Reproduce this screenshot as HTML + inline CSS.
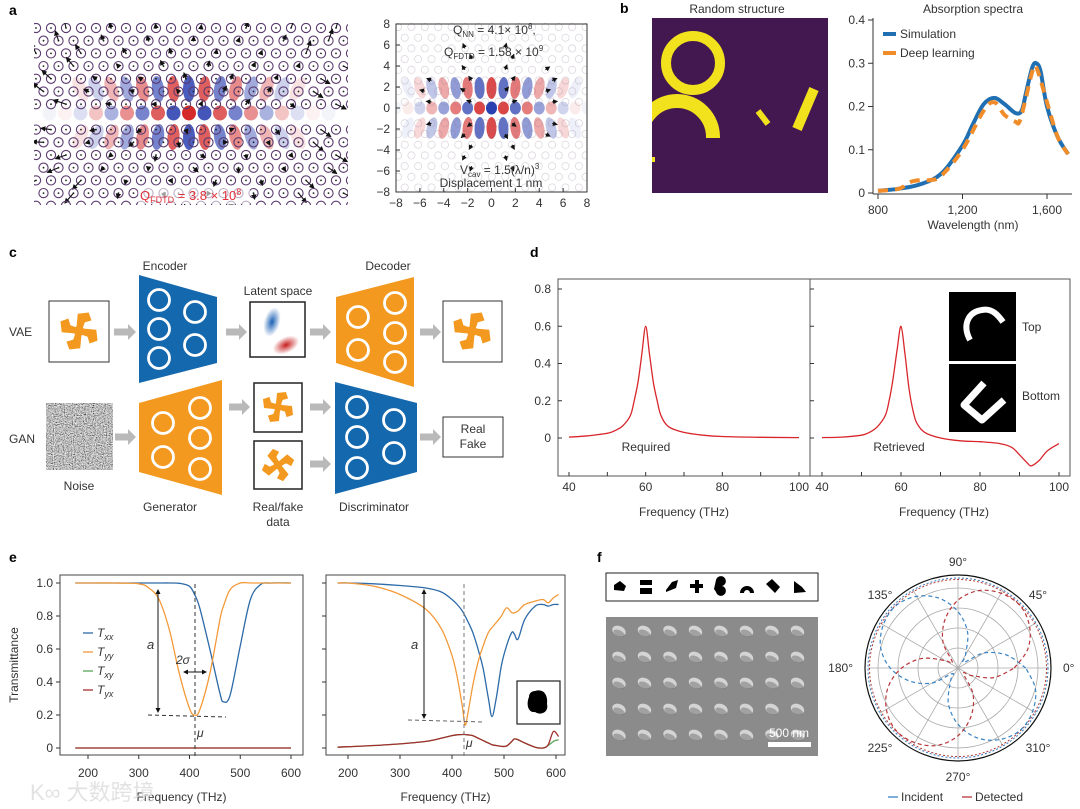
<!DOCTYPE html>
<html><head><meta charset="utf-8"><style>
html,body{margin:0;padding:0;background:#fff}
svg{display:block;font-family:"Liberation Sans",Arial,sans-serif}
text{fill:#333}
</style></head><body>
<svg id="fig" width="1080" height="809" viewBox="0 0 1080 809" xmlns="http://www.w3.org/2000/svg">
<defs>
<filter id="noiseF" x="0" y="0" width="100%" height="100%"><feTurbulence type="fractalNoise" baseFrequency="0.9" numOctaves="2" seed="3"/><feColorMatrix type="saturate" values="0"/><feComponentTransfer><feFuncR type="linear" slope="2.2" intercept="-0.6"/><feFuncG type="linear" slope="2.2" intercept="-0.6"/><feFuncB type="linear" slope="2.2" intercept="-0.6"/><feFuncA type="linear" slope="0" intercept="1"/></feComponentTransfer></filter>
<marker id="ah" viewBox="0 0 10 10" refX="8" refY="5" markerWidth="5" markerHeight="5" orient="auto-start-reverse"><path d="M0,0L10,5L0,10z" fill="#111"/></marker>
<clipPath id="clipA"><rect x="34" y="23" width="314" height="182"/></clipPath>
<clipPath id="clipA2"><rect x="396" y="23" width="191" height="169"/></clipPath>
<clipPath id="clipB"><rect x="652" y="18" width="176" height="175"/></clipPath>
<radialGradient id="latB" cx="50%" cy="50%" r="50%"><stop offset="0" stop-color="#1a5fb4"/><stop offset="1" stop-color="#1a5fb4" stop-opacity="0"/></radialGradient>
<radialGradient id="latR" cx="50%" cy="50%" r="50%"><stop offset="0" stop-color="#c81d1d"/><stop offset="1" stop-color="#c81d1d" stop-opacity="0"/></radialGradient>
</defs>

<text x="9" y="15" font-weight="bold" font-size="14" style="fill:#000">a</text>
<text x="620" y="13" font-weight="bold" font-size="14" style="fill:#000">b</text>
<text x="9" y="257" font-weight="bold" font-size="14" style="fill:#000">c</text>
<text x="530" y="257" font-weight="bold" font-size="14" style="fill:#000">d</text>
<text x="9" y="562" font-weight="bold" font-size="14" style="fill:#000">e</text>
<text x="597" y="562" font-weight="bold" font-size="14" style="fill:#000">f</text>

<g id="aLeft" clip-path="url(#clipA)"></g>
<rect x="138" y="187" width="112" height="17" fill="#fff" fill-opacity="0.6"/>
<text x="140" y="200" font-size="13" style="fill:#e0303a">Q<tspan font-size="9" dy="3">FDTD</tspan><tspan dy="-3"> = 3.8 × 10</tspan><tspan font-size="9" dy="-5">8</tspan></text>
<g id="aRight"></g>

<text x="737" y="13" font-size="12" text-anchor="middle">Random structure</text>
<g clip-path="url(#clipB)">
<rect x="652" y="18" width="176" height="175" fill="#43174f"/>
<circle cx="693" cy="63" r="27" fill="none" stroke="#f2e11d" stroke-width="10"/>
<circle cx="677" cy="137" r="36" fill="none" stroke="#f2e11d" stroke-width="14"/>
<rect x="640" y="138" width="100" height="60" fill="#43174f"/>
<line x1="758" y1="111" x2="768" y2="124" stroke="#f2e11d" stroke-width="6"/>
<line x1="814" y1="89" x2="797" y2="129" stroke="#f2e11d" stroke-width="10"/>
<rect x="652" y="157" width="3" height="5" fill="#f2e11d"/>
</g>
<text x="973" y="13" font-size="12" text-anchor="middle">Absorption spectra</text>
<g id="bPlot"></g>

<g id="cDiagram"></g>
<g id="dPlot"></g>
<g id="ePlot"></g>
<g id="fPanel"></g>

<text x="30" y="800" font-size="22" style="fill:#dcdcdc;opacity:0.8" font-family="'Liberation Sans','Noto Sans CJK SC',sans-serif">K∞ 大数跨境</text>
</svg>

<script>
const bWavelength = [800,900,1000,1100,1200,1250,1300,1350,1400,1450,1480,1500,1530,1550,1570,1600,1650,1700];
const bSimulation = [0.005,0.01,0.02,0.045,0.11,0.16,0.205,0.22,0.205,0.185,0.19,0.23,0.29,0.3,0.28,0.2,0.13,0.09];
const bDLWavelength = [800,900,950,1000,1050,1100,1200,1300,1350,1400,1450,1470,1500,1530,1550,1600,1650,1700];
const bDeepLearning = [0.005,0.01,0.025,0.03,0.03,0.04,0.1,0.19,0.21,0.18,0.165,0.165,0.22,0.28,0.29,0.21,0.13,0.09];
const bYTicks = [0,0.1,0.2,0.3,0.4];
const bXTicks = [800,1200,1600];
const bXTickLabels = ["800","1,200","1,600"];
const dFreq = [40,45,50,52,54,56,57,58,59,60,61,62,63,64,66,70,75,80,90,100];
const dRequired = [0.005,0.012,0.025,0.04,0.065,0.12,0.2,0.3,0.45,0.6,0.45,0.3,0.2,0.12,0.06,0.03,0.015,0.008,0.004,0.002];
const dFreq2 = [40,45,50,52,54,56,57,58,59,60,61,62,63,64,66,70,75,80,85,88,90,92,93,95,97,100];
const dRetrieved = [0.002,0.005,0.015,0.03,0.06,0.12,0.2,0.32,0.47,0.6,0.45,0.27,0.15,0.08,0.03,0.0,-0.015,-0.02,-0.03,-0.05,-0.09,-0.135,-0.15,-0.12,-0.07,-0.03];
const dYTicks = [0,0.2,0.4,0.6,0.8];
const dXTicks = [40,60,80,100];
const eFreqL = [175,200,250,300,320,340,360,380,400,410,420,440,460,467,480,500,520,540,560,600];
const eTxxL = [1,1,1,1,1,1,1,0.998,0.98,0.93,0.85,0.6,0.33,0.28,0.32,0.62,0.9,0.99,1,1];
const eTyyL = [1,1,1,0.995,0.97,0.9,0.72,0.45,0.24,0.2,0.23,0.45,0.78,0.86,0.96,1,1,1,1,1];
const eTxyL = [0,0,0,0,0,0,0,0,0,0,0,0,0,0,0,0,0,0,0,0];
const eTyxL = [0,0,0,0,0,0,0,0,0,0,0,0,0,0,0,0,0,0,0,0];
const eFreqR = [180,200,250,300,350,380,400,410,420,425,430,440,450,460,470,477,485,495,505,515,520,527,540,560,575,585,595,605];
const eTxxR = [1,1,0.995,0.985,0.97,0.945,0.9,0.87,0.83,0.8,0.77,0.7,0.6,0.48,0.3,0.19,0.3,0.5,0.62,0.7,0.69,0.66,0.78,0.86,0.87,0.86,0.87,0.87];
const eTyyR = [1,1,0.98,0.93,0.84,0.72,0.56,0.43,0.25,0.14,0.2,0.38,0.52,0.62,0.7,0.73,0.76,0.8,0.85,0.82,0.82,0.83,0.87,0.89,0.9,0.88,0.91,0.93];
const eTyxR = [0.005,0.008,0.015,0.025,0.04,0.06,0.075,0.08,0.082,0.082,0.08,0.075,0.06,0.045,0.03,0.02,0.015,0.01,0.012,0.04,0.055,0.05,0.03,0.005,0,0.02,0.1,0.07];
const eTxyR = [0.005,0.008,0.015,0.025,0.04,0.06,0.075,0.08,0.082,0.082,0.08,0.075,0.06,0.045,0.03,0.02,0.015,0.01,0.012,0.04,0.055,0.05,0.03,0.005,0,0.015,0.04,0.05];
const eYTicks = [0,0.2,0.4,0.6,0.8,1.0];
const eYTickLabels = ["0","0.2","0.4","0.6","0.8","1.0"];
const eXTicks = [200,300,400,500,600];
const fAngles = [0,15,30,45,60,75,90,105,120,135,150,165,180,195,210,225,240,255,270,285,300,315,330,345];
const fIncident = [0.77,0.57,0.34,0.09,0.17,0.42,0.64,0.82,0.94,1.0,0.98,0.91,0.77,0.57,0.34,0.09,0.17,0.42,0.64,0.82,0.94,1.0,0.98,0.91];
const fDetected = [0.64,0.82,0.94,1.0,0.98,0.91,0.77,0.57,0.34,0.09,0.17,0.42,0.64,0.82,0.94,1.0,0.98,0.91,0.77,0.57,0.34,0.09,0.17,0.42];
const fAngleLabels = ["0°","45°","90°","135°","180°","225°","270°","310°"];

const NS = "http://www.w3.org/2000/svg";
function mk(parent, tag, attrs, txt){
  const e = document.createElementNS(NS, tag);
  for (const k in attrs) e.setAttribute(k, attrs[k]);
  if (txt !== undefined) e.textContent = txt;
  parent.appendChild(e);
  return e;
}
function smoothPath(pts){
  let d = "M" + pts[0][0].toFixed(1) + "," + pts[0][1].toFixed(1);
  for (let i = 0; i < pts.length - 1; i++){
    const p0 = pts[i-1] || pts[i], p1 = pts[i], p2 = pts[i+1], p3 = pts[i+2] || p2;
    const c1 = [p1[0] + (p2[0]-p0[0])/6, p1[1] + (p2[1]-p0[1])/6];
    const c2 = [p2[0] - (p3[0]-p1[0])/6, p2[1] - (p3[1]-p1[1])/6];
    d += "C" + c1[0].toFixed(1)+","+c1[1].toFixed(1)+" "+c2[0].toFixed(1)+","+c2[1].toFixed(1)+" "+p2[0].toFixed(1)+","+p2[1].toFixed(1);
  }
  return d;
}
function lin(d0,d1,r0,r1){ return v => r0 + (v-d0)/(d1-d0)*(r1-r0); }

// Panel a
(function(){
  const g = document.getElementById('aLeft');
  mk(g,'rect',{x:34,y:23,width:314,height:182,fill:'#fff'});
  const cx = 189, cy = 113;
  for (let k=-9;k<=9;k++){
    const x = cx + k*15.5;
    const col = (Math.abs(k)%2===0) ? '#d42a2a' : '#2a3fb0';
    const op = Math.max(0.06, 1 - Math.abs(k)*0.12);
    const e1 = mk(g,'ellipse',{cx:x,cy:cy,rx:7,ry:7.5,fill:col,'fill-opacity':op});
    
    
    if (Math.abs(k)<=7){
      const col2 = (Math.abs(k)%2===0) ? '#2a3fb0' : '#d42a2a';
      for (const s of [-1,1]){
        mk(g,'ellipse',{cx:x,cy:cy+s*24,rx:6,ry:13,fill:col2,'fill-opacity':op*0.85,transform:`rotate(${-s*k*4} ${x} ${cy+s*24})`});
      }
    }
  }
  let idx=0;
  for (let r=0;r<15;r++){
    const y = 28 + r*12.7;
    if (Math.abs(y-cy)<6) continue;
    const off = (r%2)*7.5;
    for (let c=0;c<22;c++){
      const x = 36 + off + c*15;
      mk(g,'circle',{cx:x,cy:y,r:4.6,fill:'none',stroke:'#5a3a6e','stroke-width':1.1});
      mk(g,'circle',{cx:x,cy:y,r:0.9,fill:'#222'});
      idx++;
      if ((idx*7)%3!==0) continue;
      const ang = Math.atan2(y-cy, x-cx) + ((idx*37)%7-3)*0.25;
      const dist = Math.hypot(x-cx,y-cy);
      const len = 3 + ((idx*13)%4) + (dist>120?7:0);
      mk(g,'line',{x1:x,y1:y,x2:(x+Math.cos(ang)*len).toFixed(1),y2:(y+Math.sin(ang)*len).toFixed(1),stroke:'#111','stroke-width':1.1,'marker-end':'url(#ah)'});
    }
  }
  const gr = document.getElementById('aRight');
  const sx = lin(-8,8,396,587), sy = lin(-8,8,192,24);
  const inner = mk(gr,'g',{'clip-path':'url(#clipA2)'});
  for (let k=-8;k<=8;k++){
    const x = sx(k);
    const col = (Math.abs(k)%2===0) ? '#2a3fb0' : '#d42a2a';
    const op = Math.max(0.06, 1-Math.abs(k)*0.13);
    mk(inner,'ellipse',{cx:x,cy:sy(0),rx:5.5,ry:6.5,fill:col,'fill-opacity':op});
    if (Math.abs(k)<=7){
      const col2 = (Math.abs(k)%2===0) ? '#d42a2a' : '#2a3fb0';
      for (const s of [-1,1]) mk(inner,'ellipse',{cx:x,cy:sy(0)+s*20,rx:5,ry:11,fill:col2,'fill-opacity':op*0.85,transform:`rotate(${-s*k*3} ${x} ${sy(0)+s*20})`});
    }
  }
  let j=0;
  for (let r=0;r<16;r++){
    const y = 27 + r*10.7;
    if (Math.abs(y-sy(0))<5) continue;
    const off=(r%2)*6.7;
    for (let c=0;c<15;c++){
      const x = 398+off+c*13.4;
      mk(inner,'circle',{cx:x,cy:y,r:3.6,fill:'none',stroke:'#8a7a96','stroke-width':0.8,'stroke-opacity':0.3});
      j++;
      const dist = Math.hypot(x-sx(0),y-sy(0));
      if (dist<70 && dist>15 && j%3===0){
        const ang = Math.atan2(y-sy(0),x-sx(0));
        mk(inner,'line',{x1:x,y1:y,x2:(x+Math.cos(ang)*5).toFixed(1),y2:(y+Math.sin(ang)*5).toFixed(1),stroke:'#111','stroke-width':1,'marker-end':'url(#ah)'});
      }
    }
  }
  const fr = mk(gr,'rect',{x:396,y:24,width:191,height:168,fill:'none',stroke:'#333','stroke-width':1});
  
  
  for (let v=-8; v<=8; v+=2){
    mk(gr,'line',{x1:396,y1:sy(v),x2:400,y2:sy(v),stroke:'#333'});
    const t = mk(gr,'text',{x:390,y:sy(v)+4,'font-size':12,'text-anchor':'end'}, v<0?('−'+(-v)):String(v));
    
    
    mk(gr,'line',{x1:sx(v),y1:192,x2:sx(v),y2:188,stroke:'#333'});
    const t2 = mk(gr,'text',{x:sx(v),y:207,'font-size':12,'text-anchor':'middle'}, v<0?('−'+(-v)):String(v));
    
    
  }
  const q1 = mk(gr,'text',{x:453,y:34,'font-size':12});
  q1.innerHTML = 'Q<tspan font-size="8" dy="3">NN</tspan><tspan dy="-3"> = 4.1× 10</tspan><tspan font-size="8" dy="-5">8</tspan><tspan dy="5">,</tspan>';
  
  
  const q2 = mk(gr,'text',{x:444,y:56,'font-size':12});
  q2.innerHTML = 'Q<tspan font-size="8" dy="3">FDTD</tspan><tspan dy="-3"> = 1.58 × 10</tspan><tspan font-size="8" dy="-5">9</tspan>';
  
  
  const q3 = mk(gr,'text',{x:460,y:174,'font-size':12});
  q3.innerHTML = 'V<tspan font-size="8" dy="3">cav</tspan><tspan dy="-3"> = 1.5(λ/n)</tspan><tspan font-size="8" dy="-5">3</tspan>';
  
  
  const q4 = mk(gr,'text',{x:491,y:187,'font-size':12,'text-anchor':'middle'},'Displacement 1 nm');
  
  
})();

// Panel b
(function(){
  const g = document.getElementById('bPlot');
  const sx = lin(800,1600,878,1047), sy = lin(0,0.4,193,20);
  mk(g,'line',{x1:873,y1:18,x2:873,y2:194,stroke:'#333'});
  mk(g,'line',{x1:873,y1:194,x2:1072,y2:194,stroke:'#333'});
  bYTicks.forEach(v=>{
    mk(g,'line',{x1:868,y1:sy(v),x2:873,y2:sy(v),stroke:'#333'});
    const t = mk(g,'text',{x:865,y:sy(v)+4,'font-size':12,'text-anchor':'end'}, String(v));
    
    
  });
  bXTicks.forEach((v,i)=>{
    mk(g,'line',{x1:sx(v),y1:194,x2:sx(v),y2:199,stroke:'#333'});
    const t = mk(g,'text',{x:sx(v),y:214,'font-size':12,'text-anchor':'middle'}, bXTickLabels[i]);
    
    
  });
  const xl = mk(g,'text',{x:973,y:229,'font-size':12,'text-anchor':'middle'},'Wavelength (nm)');
  
  
  const p1 = mk(g,'path',{d:smoothPath(bWavelength.map((w,i)=>[sx(w),sy(bSimulation[i])])),fill:'none',stroke:'#1f6fb2','stroke-width':4});
  
  
  const p2 = mk(g,'path',{d:smoothPath(bDLWavelength.map((w,i)=>[sx(w),sy(bDeepLearning[i])])),fill:'none',stroke:'#f08c2a','stroke-width':4,'stroke-dasharray':'10 7'});
  
  
  mk(g,'line',{x1:883,y1:34,x2:896,y2:34,stroke:'#1f6fb2','stroke-width':4});
  const l1 = mk(g,'text',{x:900,y:38,'font-size':12},'Simulation');
  
  
  mk(g,'line',{x1:883,y1:53,x2:896,y2:53,stroke:'#f08c2a','stroke-width':4});
  const l2 = mk(g,'text',{x:900,y:57,'font-size':12},'Deep learning');
  
  
})();

// Panel c
(function(){
  const g = document.getElementById('cDiagram');
  const BLUE='#1468ae', ORANGE='#f3991f', GREY='#b9b9b9';
  function label(x,y,t,name,anchor){
    const e = mk(g,'text',{x:x,y:y,'font-size':12,'text-anchor':anchor||'middle'},t);
    
    
    return e;
  }
  function arrow(x1,x2,y,name){
    const e = mk(g,'path',{d:`M${x1},${y-3.5}L${x2-8},${y-3.5}L${x2-8},${y-8}L${x2},${y}L${x2-8},${y+8}L${x2-8},${y+3.5}L${x1},${y+3.5}z`,fill:GREY});
    
    
  }
  function trap(pts,col,circles,name){
    const e = mk(g,'polygon',{points:pts,fill:col});
    
    
    circles.forEach(c=>mk(g,'circle',{cx:c[0],cy:c[1],r:10.5,fill:'none',stroke:'#fff','stroke-width':2.8}));
  }
  function pinwheel(cx,cy,s,rot){
    const grp = mk(g,'g',{transform:`translate(${cx},${cy}) rotate(${rot}) scale(${s})`});
    for (let k=0;k<4;k++){
      mk(grp,'path',{d:'M-3,-3 L-4,-16 L6,-19 L10,-12 L4,-9 L3,-3 z',fill:ORANGE,transform:`rotate(${k*90})`});
    }
    mk(grp,'circle',{cx:0,cy:0,r:5,fill:ORANGE});
  }
  label(165,270,'Encoder','encoder-label');
  label(388,270,'Decoder','decoder-label');
  label(278,295,'Latent space','latent-space-label');
  label(9,336,'VAE','vae-label','start');
  label(9,443,'GAN','gan-label','start');
  label(79,490,'Noise','noise-label');
  label(170,511,'Generator','generator-label');
  label(278,511,'Real/fake','real-fake-label');
  label(278,526,'data','data-label');
  label(374,511,'Discriminator','discriminator-label');
  const ib = mk(g,'rect',{x:49,y:301,width:60,height:61,fill:'#fff',stroke:'#333','stroke-width':1});
  
  
  pinwheel(79,331,1.05,10);
  arrow(114,136,332,'arrow-input-encoder');
  trap('139,275 217,297 217,363 139,383',BLUE,[[159,300],[159,329],[159,358],[195,312],[195,345]],'encoder-block');
  arrow(226,247,332,'arrow-encoder-latent');
  const lb = mk(g,'rect',{x:250,y:302,width:55,height:55,fill:'#fff',stroke:'#222','stroke-width':1.5});
  
  
  mk(g,'ellipse',{cx:272,cy:322,rx:8,ry:15,fill:'url(#latB)',transform:'rotate(15 272 322)'});
  mk(g,'ellipse',{cx:286,cy:345,rx:14,ry:8,fill:'url(#latR)',transform:'rotate(-25 286 345)'});
  arrow(310,331,332,'arrow-latent-decoder');
  trap('336,297 414,277 414,387 336,363',ORANGE,[[358,317],[358,350],[395,303],[395,333],[395,362]],'decoder-block');
  arrow(420,441,332,'arrow-decoder-output');
  const ob = mk(g,'rect',{x:443,y:301,width:59,height:61,fill:'#fff',stroke:'#333','stroke-width':1});
  
  
  pinwheel(472,331,1.05,10);
  const nb = mk(g,'rect',{x:46,y:403,width:67,height:67,fill:'#888',filter:'url(#noiseF)',stroke:'#222'});
  
  
  arrow(115,136,437,'arrow-noise-generator');
  trap('139,403 222,380 222,495 139,472',ORANGE,[[163,423],[163,457],[200,408],[200,438],[200,469]],'generator-block');
  arrow(229,250,407,'arrow-generator-fake');
  const f1 = mk(g,'rect',{x:254,y:383,width:48,height:49,fill:'#fff',stroke:'#222','stroke-width':1.5});
  
  
  pinwheel(278,407,0.85,10);
  const f2 = mk(g,'rect',{x:254,y:441,width:48,height:48,fill:'#fff',stroke:'#222','stroke-width':1.5});
  
  
  pinwheel(278,465,0.85,55);
  arrow(310,331,407,'arrow-fake-discriminator');
  arrow(310,331,464,'arrow-real-discriminator');
  trap('335,382 417,403 417,472 335,494',BLUE,[[357,407],[357,437],[357,468],[394,420],[394,453]],'discriminator-block');
  arrow(420,441,437,'arrow-discriminator-output');
  const rb = mk(g,'rect',{x:443,y:417,width:60,height:40,fill:'#fff',stroke:'#333','stroke-width':1});
  
  
  label(473,433,'Real','real-label');
  label(473,448,'Fake','fake-label');
})();

// Panel d
(function(){
  const g = document.getElementById('dPlot');
  const sy = lin(0,0.8,438,289);
  const sxL = lin(40,100,569,799), sxR = lin(40,100,822,1059);
  mk(g,'rect',{x:558,y:279,width:512,height:197,fill:'none',stroke:'#555','stroke-width':1});
  mk(g,'line',{x1:810,y1:279,x2:810,y2:476,stroke:'#555'});
  dYTicks.forEach(v=>{
    mk(g,'line',{x1:558,y1:sy(v),x2:562,y2:sy(v),stroke:'#333'});
    mk(g,'line',{x1:810,y1:sy(v),x2:814,y2:sy(v),stroke:'#333'});
    const t = mk(g,'text',{x:551,y:sy(v)+4,'font-size':12,'text-anchor':'end'}, String(v));
    
    
  });
  for (let v=40; v<=100; v+=10){
    mk(g,'line',{x1:sxL(v),y1:476,x2:sxL(v),y2:472,stroke:'#333'});
    mk(g,'line',{x1:sxR(v),y1:476,x2:sxR(v),y2:472,stroke:'#333'});
  }
  dXTicks.forEach(v=>{
    const t = mk(g,'text',{x:sxL(v),y:491,'font-size':12,'text-anchor':'middle'}, String(v));
    
    
    const t2 = mk(g,'text',{x:sxR(v),y:491,'font-size':12,'text-anchor':'middle'}, String(v));
    
    
  });
  const a1 = mk(g,'text',{x:684,y:516,'font-size':12,'text-anchor':'middle'},'Frequency (THz)');
  
  
  const a2 = mk(g,'text',{x:944,y:516,'font-size':12,'text-anchor':'middle'},'Frequency (THz)');
  
  
  const r1 = mk(g,'path',{d:smoothPath(dFreq.map((f,i)=>[sxL(f),sy(dRequired[i])])),fill:'none',stroke:'#d8262b','stroke-width':1.3});
  
  
  const r2 = mk(g,'path',{d:smoothPath(dFreq2.map((f,i)=>[sxR(f),sy(dRetrieved[i])])),fill:'none',stroke:'#d8262b','stroke-width':1.3});
  
  
  const t1 = mk(g,'text',{x:646,y:451,'font-size':12,'text-anchor':'middle'},'Required');
  
  
  const t2 = mk(g,'text',{x:899,y:451,'font-size':12,'text-anchor':'middle'},'Retrieved');
  
  
  const b1 = mk(g,'rect',{x:949,y:292,width:67,height:69,fill:'#000'});
  
  
  mk(g,'path',{d:'M970,340 C962,325 968,312 982,310 C992,308 998,315 1003,322',fill:'none',stroke:'#fff','stroke-width':6});
  const b2 = mk(g,'rect',{x:949,y:364,width:67,height:68,fill:'#000'});
  
  
  mk(g,'path',{d:'M984,383 L964,405 L982,420 L1004,400',fill:'none',stroke:'#fff','stroke-width':7,'stroke-linejoin':'round'});
  const tt = mk(g,'text',{x:1022,y:331,'font-size':12},'Top');
  
  
  const tb = mk(g,'text',{x:1022,y:400,'font-size':12},'Bottom');
  
  
})();

// Panel e
(function(){
  const g = document.getElementById('ePlot');
  const sy = lin(0,1,748,583);
  const sxL = lin(200,600,88,291), sxR = lin(200,600,348,556);
  const C = {xx:'#2d6aa8', yy:'#f39a3a', xy:'#5aa55a', yx:'#a3302e'};
  [[60,303],[326,565]].forEach((fr,pi)=>{
    mk(g,'rect',{x:fr[0],y:575,width:fr[1]-fr[0],height:180,fill:'none',stroke:'#444','stroke-width':1});
    const sx = pi===0?sxL:sxR;
    eYTicks.forEach((v,i)=>{
      mk(g,'line',{x1:fr[0]-4,y1:sy(v),x2:fr[0],y2:sy(v),stroke:'#333'});
      if (pi===0){
        const t = mk(g,'text',{x:fr[0]-7,y:sy(v)+4,'font-size':12,'text-anchor':'end'}, eYTickLabels[i]);
        
        
      }
    });
    eXTicks.forEach(v=>{
      mk(g,'line',{x1:sx(v),y1:755,x2:sx(v),y2:759,stroke:'#333'});
      const t = mk(g,'text',{x:sx(v),y:777,'font-size':12,'text-anchor':'middle'}, String(v));
      
      
    });
    const xt = mk(g,'text',{x:(fr[0]+fr[1])/2,y:801,'font-size':12,'text-anchor':'middle'},'Frequency (THz)');
    
    
  });
  const yt = mk(g,'text',{x:18,y:665,'font-size':12,'text-anchor':'middle',transform:'rotate(-90 18 665)'},'Transmittance');
  
  
  function series(fx, sx, vals, col, name){
    const p = mk(g,'path',{d:smoothPath(fx.map((f,i)=>[sx(f),sy(vals[i])])),fill:'none',stroke:col,'stroke-width':1.3});
    
    
  }
  series(eFreqL,sxL,eTxyL,C.xy,'txy-left');
  series(eFreqL,sxL,eTyxL,C.yx,'tyx-left');
  series(eFreqL,sxL,eTxxL,C.xx,'txx-left');
  series(eFreqL,sxL,eTyyL,C.yy,'tyy-left');
  series(eFreqR,sxR,eTxyR,C.xy,'txy-right');
  series(eFreqR,sxR,eTyxR,C.yx,'tyx-right');
  series(eFreqR,sxR,eTxxR,C.xx,'txx-right');
  series(eFreqR,sxR,eTyyR,C.yy,'tyy-right');
  [['xx',C.xx],['yy',C.yy],['xy',C.xy],['yx',C.yx]].forEach((s,i)=>{
    const y = 637 + i*19;
    mk(g,'line',{x1:83,y1:y-4,x2:93,y2:y-4,stroke:s[1],'stroke-width':1.3});
    const t = mk(g,'text',{x:97,y:y,'font-size':12,'font-style':'italic'});
    t.innerHTML = 'T<tspan font-size="9" dy="3">'+s[0]+'</tspan>';
    
    
  });
  mk(g,'line',{x1:158,y1:590,x2:158,y2:712,stroke:'#111','stroke-width':1,'marker-start':'url(#ah)','marker-end':'url(#ah)'});
  mk(g,'line',{x1:148,y1:715,x2:226,y2:717,stroke:'#333','stroke-dasharray':'4 3'});
  mk(g,'line',{x1:195,y1:584,x2:195,y2:756,stroke:'#333','stroke-dasharray':'4 3'});
  mk(g,'line',{x1:184,y1:672,x2:206,y2:672,stroke:'#111','marker-start':'url(#ah)','marker-end':'url(#ah)'});
  mk(g,'text',{x:147,y:649,'font-size':13,'font-style':'italic'},'a');
  mk(g,'text',{x:176,y:664,'font-size':12,'font-style':'italic'},'2σ');
  mk(g,'text',{x:197,y:737,'font-size':12,'font-style':'italic'},'μ');
  mk(g,'line',{x1:424,y1:590,x2:424,y2:718,stroke:'#111','marker-start':'url(#ah)','marker-end':'url(#ah)'});
  mk(g,'line',{x1:408,y1:720,x2:484,y2:722,stroke:'#666','stroke-dasharray':'4 3'});
  mk(g,'line',{x1:464,y1:584,x2:464,y2:756,stroke:'#777','stroke-dasharray':'4 3'});
  mk(g,'text',{x:411,y:649,'font-size':13,'font-style':'italic'},'a');
  mk(g,'text',{x:466,y:747,'font-size':12,'font-style':'italic'},'μ');
  const ib = mk(g,'rect',{x:517,y:681,width:43,height:43,fill:'#fff',stroke:'#222','stroke-width':1.2});
  
  
  mk(g,'path',{d:'M535,691 C545,688 548,697 547,704 C549,712 541,716 535,712 C528,713 526,704 529,697 C529,693 532,691 535,691z',fill:'#000'});
})();

// Panel f
(function(){
  const g = document.getElementById('fPanel');
  const sb = mk(g,'rect',{x:606,y:573,width:212,height:28,fill:'#fff',stroke:'#222','stroke-width':1});
  
  
  const shapes = ['M614,585 l6,-4 l6,5 l-2,5 l-10,-1z','M640,580 h12 v5 h-12z M640,588 h12 v6 h-12z','M666,590 l6,-8 l6,-2 l-2,8 l-10,4z','M690,584 h5 v-4 h4 v4 h4 v4 h-4 v5 h-4 v-5 h-5z','M716,580 a5,5 0 1,1 6,6 a5,5 0 1,1 -6,6 l-2,-3 z','M740,593 a7,7 0 1,1 14,0 h-4 a3,3 0 1,0 -6,0z','M766,584 l6,-5 l8,8 l-5,6z','M794,581 l8,6 l4,5 l-12,1z'];
  shapes.forEach(d=>mk(g,'path',{d:d,fill:'#000'}));
  const sem = mk(g,'rect',{x:606,y:617,width:212,height:139,fill:'#8b8b8b'});
  
  
  for (let r=0;r<5;r++) for (let c=0;c<8;c++){
    const x = 619 + c*25.5, y = 631 + r*26;
    mk(g,'ellipse',{cx:x,cy:y,rx:7,ry:5,fill:'#d4d4d4',transform:`rotate(25 ${x} ${y})`});
    mk(g,'ellipse',{cx:x+1,cy:y+2,rx:6,ry:3,fill:'#6d6d6d','fill-opacity':0.5,transform:`rotate(25 ${x} ${y})`});
  }
  mk(g,'rect',{x:768,y:742,width:43,height:5,fill:'#fff'});
  const snm = mk(g,'text',{x:789,y:737,'font-size':12,'text-anchor':'middle',style:'fill:#fff'},'500 nm');
  
  
  const cx = 958, cy = 668, R = 88;
  for (let k=1;k<=4;k++) mk(g,'circle',{cx:cx,cy:cy,r:k*20,fill:'none',stroke:'#aaa','stroke-width':0.8});
  for (let a=0;a<180;a+=30){
    const t = a*Math.PI/180;
    mk(g,'line',{x1:cx-Math.cos(t)*90,y1:cy+Math.sin(t)*90,x2:cx+Math.cos(t)*90,y2:cy-Math.sin(t)*90,stroke:'#aaa','stroke-width':0.8});
  }
  mk(g,'circle',{cx:cx,cy:cy,r:93,fill:'none',stroke:'#111','stroke-width':1.2});
  mk(g,'circle',{cx:cx,cy:cy,r:90,fill:'none',stroke:'#3a7cc0','stroke-width':1,'stroke-dasharray':'2 2'});
  mk(g,'circle',{cx:cx,cy:cy,r:88.5,fill:'none',stroke:'#b03a3a','stroke-width':1,'stroke-dasharray':'2 2'});
  function polar(vals,col,name){
    const pts = fAngles.map((a,i)=>{const t=a*Math.PI/180; return [cx+Math.cos(t)*vals[i]*R, cy-Math.sin(t)*vals[i]*R];});
    pts.push(pts[0]);
    const p = mk(g,'path',{d:smoothPath(pts),fill:'none',stroke:col,'stroke-width':1.2,'stroke-dasharray':'4 3'});
    
    
  }
  polar(fIncident,'#3a84c4','incident-curve');
  polar(fDetected,'#b8363a','detected-curve');
  const lp = [[1063,672,'start'],[1038,599,'middle'],[958,566,'middle'],[880,599,'middle'],[853,672,'end'],[880,752,'middle'],[958,781,'middle'],[1038,752,'middle']];
  fAngleLabels.forEach((l,i)=>{
    const t = mk(g,'text',{x:lp[i][0],y:lp[i][1],'font-size':12,'text-anchor':lp[i][2]},l);
    
    
  });
  mk(g,'line',{x1:888,y1:797,x2:898,y2:797,stroke:'#3a84c4','stroke-width':1.3});
  const l1 = mk(g,'text',{x:901,y:801,'font-size':12},'Incident');
  
  
  mk(g,'line',{x1:962,y1:797,x2:972,y2:797,stroke:'#b8363a','stroke-width':1.3});
  const l2 = mk(g,'text',{x:975,y:801,'font-size':12},'Detected');
  
  
})();
</script>
</body></html>
